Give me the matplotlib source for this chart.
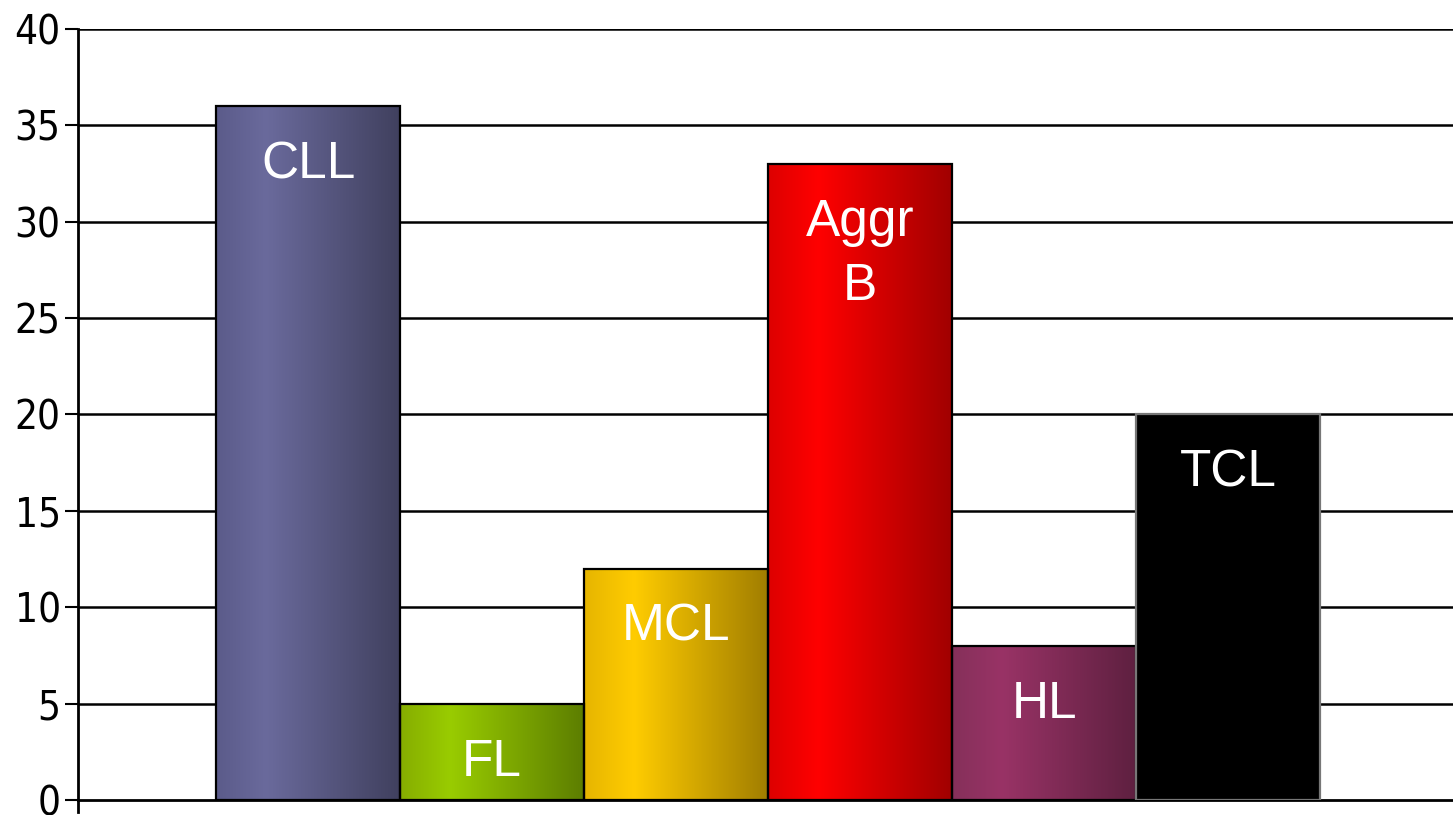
import numpy as np
import matplotlib
matplotlib.use('Agg')
import matplotlib.pyplot as plt
from matplotlib.colors import LinearSegmentedColormap

categories = ['CLL', 'FL', 'MCL', 'Aggr\nB', 'HL', 'TCL']
values = [36, 5, 12, 33, 8, 20]
# left edge, highlight, right edge
bar_colors = [
    ('#5b5b8a', '#6a6a9c', '#40405e'),
    ('#86ad00', '#99cc00', '#5c7d00'),
    ('#e6b500', '#ffcc00', '#a07d00'),
    ('#dd0000', '#ff0000', '#a00000'),
    ('#85305a', '#993366', '#5e2040'),
    ('#000000', '#000000', '#000000'),
]
yticks = [0, 5, 10, 15, 20, 25, 30, 35, 40]

fig = plt.figure(figsize=(14.53, 8.15), dpi=100)
ax = fig.add_axes([78 / 1453, 15 / 815, 1 - 78 / 1453, 771 / 815])

for y in yticks[1:]:
    ax.axhline(y, color='black', lw=1.8, zorder=1)

grad = np.linspace(0, 1, 256).reshape(1, -1)
for i, (v, cols) in enumerate(zip(values, bar_colors)):
    cmap = LinearSegmentedColormap.from_list('c%d' % i, [(0, cols[0]), (0.27, cols[1]), (1, cols[2])])
    ax.imshow(grad, cmap=cmap, aspect='auto', extent=(i - 0.5, i + 0.5, 0, v),
              zorder=2, interpolation='bicubic')
    ec = '#777777' if i == len(values) - 1 else 'black'
    ax.bar(i, v, width=1.0, facecolor='none', edgecolor=ec, lw=1.6, zorder=3)
    ax.annotate(categories[i], (i, v), xytext=(0, -34), textcoords='offset pixels',
                ha='center', va='top', color='white', fontsize=37,
                fontfamily=['Liberation Sans', 'DejaVu Sans'], linespacing=1.4, zorder=4)

ax.set_xlim(-1.25, 6.22)
ax.set_ylim(0, 40)
ax.set_yticks(yticks)
ax.set_yticklabels([str(t) for t in yticks], fontsize=29, fontfamily='DejaVu Sans',
                   fontstretch='condensed')
ax.tick_params(axis='y', length=9.5, width=1.5, pad=3)
ax.set_xticks([])
for s in ['top', 'right']:
    ax.spines[s].set_visible(False)
ax.spines['left'].set_linewidth(2)
ax.spines['bottom'].set_linewidth(2)
ax.plot([0, 0], [-0.016, 0], transform=ax.transAxes, color='black', lw=2, clip_on=False)

fig.savefig('out.png', dpi=100)
